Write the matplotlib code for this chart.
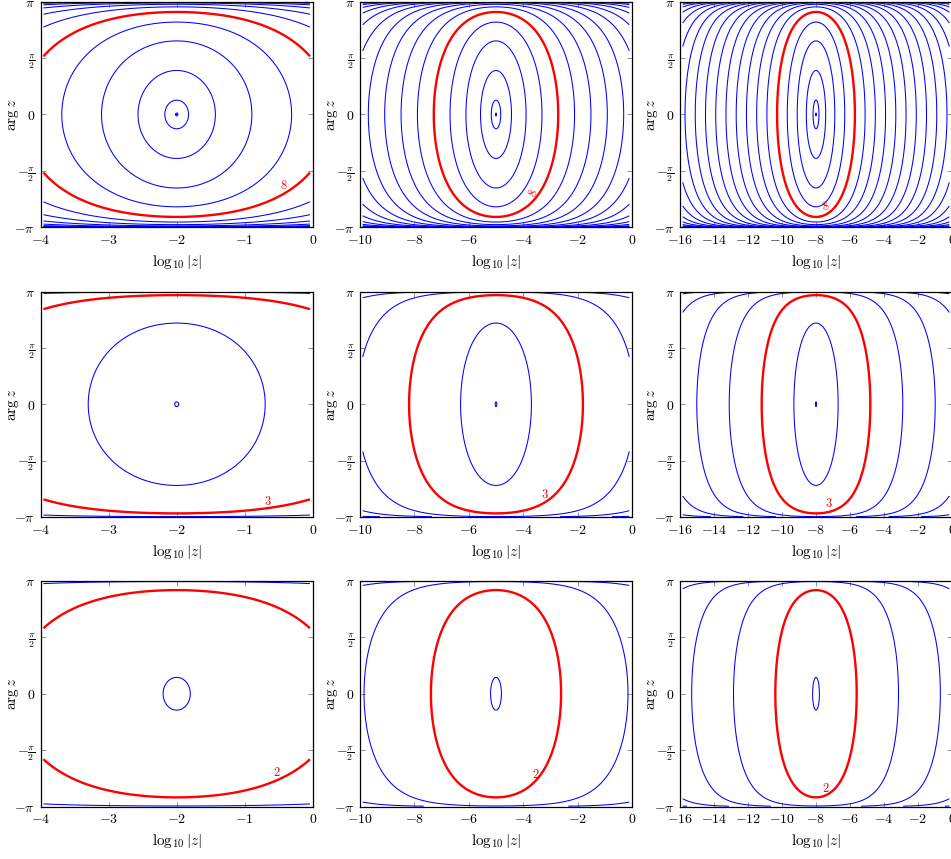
import numpy as np
import matplotlib.pyplot as plt

plt.rcParams['mathtext.fontset'] = 'cm'
plt.rcParams['font.family'] = ['DejaVu Serif']
plt.rcParams['font.size'] = 10

# panel columns: range of log10|z|
x_ranges = [(-4, 0), (-10, 0), (-16, 0)]
x_ticks = [[-4, -3, -2, -1, 0],
           [-10, -8, -6, -4, -2, 0],
           [-16, -14, -12, -10, -8, -6, -4, -2, 0]]
y_ticks = [-np.pi, -np.pi / 2, 0, np.pi / 2, np.pi]
y_ticklabels = [r'$-\pi$', r'$-\frac{\pi}{2}$', r'$0$', r'$\frac{\pi}{2}$', r'$\pi$']

# panel rows: convergence order of the iteration and the highlighted level
orders = [2, 9, 17]
red_levels = [8, 3, 2]
tol = 1e-16
all_levels = list(range(1, 41))


def iter_count(x, t, center, m):
    # iterations k with |q|^(m^k) <= tol, q = tanh(log(z/z0)/4)
    u = (x - center) * np.log(10)
    ch = np.cosh(u / 2)
    cs = np.cos(t / 2)
    q2 = (ch - cs) / (ch + cs)
    with np.errstate(divide='ignore', invalid='ignore'):
        n = np.log(np.log(tol) / (0.5 * np.log(q2))) / np.log(m)
    return np.nan_to_num(n, nan=-10, neginf=-10, posinf=100)


fig = plt.figure(figsize=(9.51, 8.59), dpi=100)
W, H = 951.0, 859.0
col_left = [40.7, 360.0, 680.0]
row_top = [1.7, 291.5, 581.0]
aw, ah = 272.0, 225.5

# where the red level number sits (x, y/pi)
label_xy = [[(-0.42, -0.63), (-3.6, -0.70), (-7.4, -0.82)],
            [(-0.66, -0.86), (-3.2, -0.80), (-7.25, -0.88)],
            [(-0.53, -0.70), (-3.55, -0.72), (-7.4, -0.84)]]
label_rot = [[0, 65, 20], [0, 0, 0], [0, 0, 0]]

ymax = 0.997 * np.pi
yy = ymax * np.sin(np.linspace(-np.pi / 2, np.pi / 2, 1401))

for r in range(3):
    for c in range(3):
        ax = fig.add_axes([col_left[c] / W, 1 - (row_top[r] + ah) / H, aw / W, ah / H])
        x0, x1 = x_ranges[c]
        span = x1 - x0
        xx = np.linspace(x0 + 0.01 * span, x1 - 0.01 * span, 2201)
        X, T = np.meshgrid(xx, yy)
        N = iter_count(X, T, (x0 + x1) / 2, orders[r])
        blue = [lv for lv in all_levels if lv != red_levels[r]]
        ax.contour(X, T, N, levels=blue, colors='#0000ff', linewidths=0.75)
        ax.contour(X, T, N, levels=[red_levels[r]], colors='#ff0000', linewidths=1.7)
        lx, ly = label_xy[r][c]
        ax.text(lx, ly * np.pi, '$%d$' % red_levels[r], color='#ff0000', fontsize=9,
                ha='center', va='center', rotation=label_rot[r][c])

        ax.set_xlim(x0, x1)
        ax.set_ylim(-np.pi, np.pi)
        ax.set_xticks(x_ticks[c])
        ax.set_xticklabels(['$%d$' % v for v in x_ticks[c]])
        ax.set_yticks(y_ticks)
        ax.set_yticklabels(y_ticklabels)
        ax.tick_params(direction='in', top=True, right=True, length=3.5,
                       width=0.5, color='0.4', labelsize=10, pad=4)
        for s in ax.spines.values():
            s.set_linewidth(0.9)
        ax.set_xlabel(r'$\log_{10}|z|$', fontsize=11)
        ax.set_ylabel(r'$\arg z$', fontsize=11)
        ax.xaxis.set_label_coords(0.5, -26 / ah)
        ax.yaxis.set_label_coords(-20 / aw, 0.5)

fig.savefig('out.png', dpi=100)
